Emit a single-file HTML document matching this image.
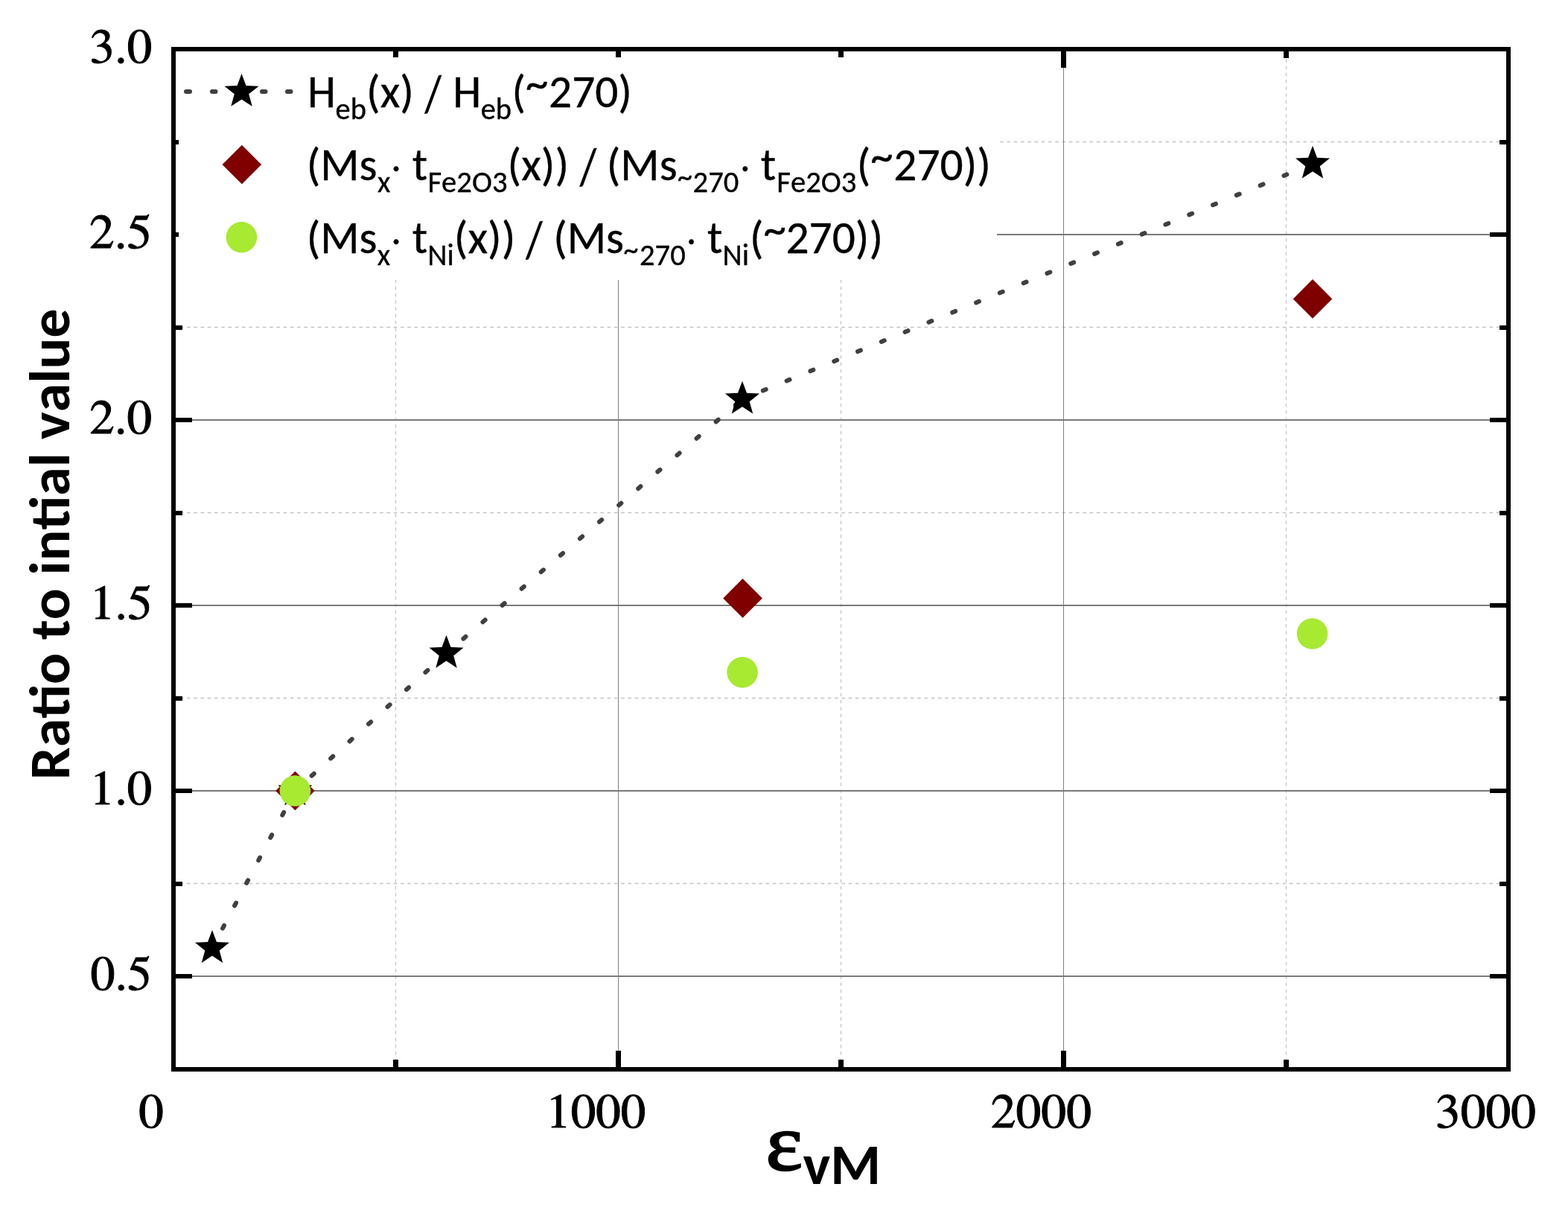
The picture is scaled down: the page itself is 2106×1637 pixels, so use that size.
<!DOCTYPE html>
<html><head><meta charset="utf-8"><title>Ratio to initial value</title>
<style>html,body{margin:0;padding:0;background:#fff;}body{width:2106px;height:1637px;overflow:hidden;}svg{display:block;}.s{font-family:"Carlito", "Liberation Sans", sans-serif;font-kerning:none;}.r{font-family:"Liberation Serif", "Times New Roman", serif;font-kerning:none;}.t{font-family:"TeX Gyre Termes", "FreeSerif", "Liberation Serif", serif;font-kerning:none;}</style>
</head><body>
<svg width="2106" height="1637" viewBox="0 0 2106 1637">
<rect x="0" y="0" width="2106" height="1637" fill="#fff"/>
<g id="grid"><line x1="531.5" y1="69.94" x2="531.5" y2="1433" stroke="#c2c2c2" stroke-width="1.2" stroke-dasharray="4.6 4.656"/><line x1="1129.5" y1="69.94" x2="1129.5" y2="1433" stroke="#c2c2c2" stroke-width="1.2" stroke-dasharray="4.6 4.656"/><line x1="1727.5" y1="69.94" x2="1727.5" y2="1433" stroke="#c2c2c2" stroke-width="1.2" stroke-dasharray="4.6 4.656"/><line x1="232.49" y1="1186.5" x2="2023" y2="1186.5" stroke="#c2c2c2" stroke-width="1.3" stroke-dasharray="4.6 4.656"/><line x1="232.49" y1="937.5" x2="2023" y2="937.5" stroke="#c2c2c2" stroke-width="1.3" stroke-dasharray="4.6 4.656"/><line x1="232.49" y1="688.5" x2="2023" y2="688.5" stroke="#c2c2c2" stroke-width="1.3" stroke-dasharray="4.6 4.656"/><line x1="232.49" y1="439.5" x2="2023" y2="439.5" stroke="#c2c2c2" stroke-width="1.3" stroke-dasharray="4.6 4.656"/><line x1="232.49" y1="190.5" x2="2023" y2="190.5" stroke="#c2c2c2" stroke-width="1.3" stroke-dasharray="4.6 4.656"/><rect x="830" y="69" width="1" height="1364" fill="#808080"/><rect x="1428" y="69" width="1" height="1364" fill="#808080"/><rect x="236" y="1310" width="1787" height="2" fill="#7a7a7a"/><rect x="236" y="1061" width="1787" height="2" fill="#7a7a7a"/><rect x="236" y="812" width="1787" height="2" fill="#7a7a7a"/><rect x="236" y="563" width="1787" height="2" fill="#7a7a7a"/><rect x="236" y="314" width="1787" height="2" fill="#7a7a7a"/></g>
<g fill="none" stroke="#404040" stroke-width="6" stroke-linecap="round" stroke-dasharray="4.2 30.2" stroke-dashoffset="4.3"><path d="M285.0 1273.3 L396.4 1062.0"/><path d="M396.4 1062.0 L599.5 877.3"/><path d="M599.5 877.3 L997.0 536.0"/><path d="M997.0 536.0 L1763.0 220.0"/></g>
<path d="M285.00 1249.10 L291.00 1265.05 L308.02 1265.82 L294.70 1276.45 L299.22 1292.88 L285.00 1283.50 L270.78 1292.88 L275.30 1276.45 L261.98 1265.82 L279.00 1265.05Z" fill="#000"/>
<path d="M396.40 1037.80 L402.40 1053.75 L419.42 1054.52 L406.10 1065.15 L410.62 1081.58 L396.40 1072.20 L382.18 1081.58 L386.70 1065.15 L373.38 1054.52 L390.40 1053.75Z" fill="#000"/>
<path d="M599.50 853.10 L605.50 869.05 L622.52 869.82 L609.20 880.45 L613.72 896.88 L599.50 887.50 L585.28 896.88 L589.80 880.45 L576.48 869.82 L593.50 869.05Z" fill="#000"/>
<path d="M997.00 511.80 L1003.00 527.75 L1020.02 528.52 L1006.70 539.15 L1011.22 555.58 L997.00 546.20 L982.78 555.58 L987.30 539.15 L973.98 528.52 L991.00 527.75Z" fill="#000"/>
<path d="M1763.00 195.80 L1769.00 211.75 L1786.02 212.52 L1772.70 223.15 L1777.22 239.58 L1763.00 230.20 L1748.78 239.58 L1753.30 223.15 L1739.98 212.52 L1757.00 211.75Z" fill="#000"/>
<path d="M396.4 1035.7 L422.7 1062.0 L396.4 1088.3 L370.1 1062.0Z" fill="#800000"/>
<path d="M997.5 777.1 L1023.8 803.4 L997.5 829.7 L971.2 803.4Z" fill="#800000"/>
<path d="M1763.0 375.1 L1789.3 401.4 L1763.0 427.7 L1736.7 401.4Z" fill="#800000"/>
<circle cx="396.4" cy="1062.0" r="20.8" fill="#a8e932"/>
<circle cx="997.1" cy="902.9" r="20.8" fill="#a8e932"/>
<circle cx="1762.5" cy="851.0" r="20.8" fill="#a8e932"/>
<g id="ticks" fill="#000"><rect x="528.0" y="1423" width="7" height="10"/><rect x="528.0" y="69" width="7" height="9"/><rect x="827.0" y="1411" width="7" height="22"/><rect x="827.0" y="69" width="7" height="22"/><rect x="1126.0" y="1423" width="7" height="10"/><rect x="1126.0" y="69" width="7" height="9"/><rect x="1425.0" y="1411" width="7" height="22"/><rect x="1425.0" y="69" width="7" height="22"/><rect x="1724.0" y="1423" width="7" height="10"/><rect x="1724.0" y="69" width="7" height="9"/><rect x="236" y="1308.0" width="22" height="6"/><rect x="2001" y="1308.0" width="22" height="6"/><rect x="236" y="1184.0" width="9" height="6"/><rect x="2014" y="1184.0" width="9" height="6"/><rect x="236" y="1059.0" width="22" height="6"/><rect x="2001" y="1059.0" width="22" height="6"/><rect x="236" y="935.0" width="9" height="6"/><rect x="2014" y="935.0" width="9" height="6"/><rect x="236" y="810.0" width="22" height="6"/><rect x="2001" y="810.0" width="22" height="6"/><rect x="236" y="686.0" width="9" height="6"/><rect x="2014" y="686.0" width="9" height="6"/><rect x="236" y="561.0" width="22" height="6"/><rect x="2001" y="561.0" width="22" height="6"/><rect x="236" y="437.0" width="9" height="6"/><rect x="2014" y="437.0" width="9" height="6"/><rect x="236" y="312.0" width="22" height="6"/><rect x="2001" y="312.0" width="22" height="6"/><rect x="236" y="188.0" width="9" height="6"/><rect x="2014" y="188.0" width="9" height="6"/></g>
<g id="frame" fill="#000"><rect x="230" y="63" width="1799" height="6"/><rect x="230" y="1433" width="1799" height="6"/><rect x="230" y="63" width="6" height="1376"/><rect x="2023" y="63" width="6" height="1376"/></g>
<rect x="240" y="77" width="1099" height="299" fill="#fff"/>
<line x1="250.0" y1="123" x2="255.0" y2="123" stroke="#404040" stroke-width="6" stroke-linecap="round"/>
<line x1="285.0" y1="123" x2="289.5" y2="123" stroke="#404040" stroke-width="6" stroke-linecap="round"/>
<line x1="352.0" y1="123" x2="356.5" y2="123" stroke="#404040" stroke-width="6" stroke-linecap="round"/>
<line x1="386.0" y1="123" x2="390.5" y2="123" stroke="#404040" stroke-width="6" stroke-linecap="round"/>
<path d="M324.50 99.00 L330.50 114.95 L347.52 115.72 L334.20 126.35 L338.72 142.78 L324.50 133.40 L310.28 142.78 L314.80 126.35 L301.48 115.72 L318.50 114.95Z" fill="#000"/>
<path d="M324.8 194.7 L351.1 221.0 L324.8 247.3 L298.5 221.0Z" fill="#800000"/>
<circle cx="324.4" cy="318.6" r="20.8" fill="#a8e932"/>
<g id="legendtext" class="s" fill="#000" stroke="#000" stroke-width="0.35"><text x="412.93" y="144.00" font-size="61" textLength="38.01" lengthAdjust="spacingAndGlyphs">H</text><text x="450.54" y="160.00" font-size="40" textLength="41.37" lengthAdjust="spacingAndGlyphs">eb</text><text x="492.03" y="144.00" font-size="61" textLength="63.81" lengthAdjust="spacingAndGlyphs">(x)</text><text transform="translate(570.54 148.98) scale(0.95 1.14)" font-size="61" textLength="23.56" lengthAdjust="spacingAndGlyphs">/</text><text x="608.13" y="144.00" font-size="61" textLength="38.01" lengthAdjust="spacingAndGlyphs">H</text><text x="645.74" y="160.00" font-size="40" textLength="41.37" lengthAdjust="spacingAndGlyphs">eb</text><text x="687.53" y="144.00" font-size="61" textLength="18.50" lengthAdjust="spacingAndGlyphs">(</text><text x="705.95" y="132.70" font-size="61" textLength="30.38" lengthAdjust="spacingAndGlyphs">~</text><text x="737.06" y="144.00" font-size="61" textLength="111.85" lengthAdjust="spacingAndGlyphs">270)</text><text x="411.63" y="242.00" font-size="61" textLength="94.91" lengthAdjust="spacingAndGlyphs">(Ms</text><text x="507.05" y="258.00" font-size="40" textLength="17.32" lengthAdjust="spacingAndGlyphs">x</text><text x="526.19" y="239.09" font-size="46">&#183;</text><text x="553.79" y="242.00" font-size="61" textLength="20.43" lengthAdjust="spacingAndGlyphs">t</text><text x="574.40" y="258.00" font-size="40" textLength="107.11" lengthAdjust="spacingAndGlyphs">Fe2O3</text><text x="681.53" y="242.00" font-size="61" textLength="82.51" lengthAdjust="spacingAndGlyphs">(x))</text><text transform="translate(778.64 246.98) scale(0.95 1.14)" font-size="61" textLength="23.56" lengthAdjust="spacingAndGlyphs">/</text><text x="814.73" y="242.00" font-size="61" textLength="94.91" lengthAdjust="spacingAndGlyphs">(Ms</text><text x="910.09" y="250.50" font-size="40" textLength="19.92" lengthAdjust="spacingAndGlyphs">~</text><text x="930.60" y="258.00" font-size="40" textLength="61.72" lengthAdjust="spacingAndGlyphs">270</text><text x="994.99" y="239.09" font-size="46">&#183;</text><text x="1021.79" y="242.00" font-size="61" textLength="20.43" lengthAdjust="spacingAndGlyphs">t</text><text x="1043.30" y="258.00" font-size="40" textLength="107.11" lengthAdjust="spacingAndGlyphs">Fe2O3</text><text x="1150.63" y="242.00" font-size="61" textLength="18.50" lengthAdjust="spacingAndGlyphs">(</text><text x="1169.15" y="230.70" font-size="61" textLength="30.38" lengthAdjust="spacingAndGlyphs">~</text><text x="1200.36" y="242.00" font-size="61" textLength="130.54" lengthAdjust="spacingAndGlyphs">270))</text><text x="411.63" y="340.00" font-size="61" textLength="94.91" lengthAdjust="spacingAndGlyphs">(Ms</text><text x="506.75" y="356.00" font-size="40" textLength="17.32" lengthAdjust="spacingAndGlyphs">x</text><text x="526.19" y="336.69" font-size="46">&#183;</text><text x="553.79" y="340.00" font-size="61" textLength="20.43" lengthAdjust="spacingAndGlyphs">t</text><text x="574.31" y="356.00" font-size="40" textLength="35.45" lengthAdjust="spacingAndGlyphs">Ni</text><text x="609.83" y="340.00" font-size="61" textLength="82.51" lengthAdjust="spacingAndGlyphs">(x))</text><text transform="translate(706.14 344.98) scale(0.95 1.14)" font-size="61" textLength="23.56" lengthAdjust="spacingAndGlyphs">/</text><text x="743.13" y="340.00" font-size="61" textLength="94.91" lengthAdjust="spacingAndGlyphs">(Ms</text><text x="837.59" y="348.50" font-size="40" textLength="19.92" lengthAdjust="spacingAndGlyphs">~</text><text x="859.00" y="356.00" font-size="40" textLength="61.72" lengthAdjust="spacingAndGlyphs">270</text><text x="922.79" y="336.69" font-size="46">&#183;</text><text x="950.09" y="340.00" font-size="61" textLength="20.43" lengthAdjust="spacingAndGlyphs">t</text><text x="970.61" y="356.00" font-size="40" textLength="35.45" lengthAdjust="spacingAndGlyphs">Ni</text><text x="1006.93" y="340.00" font-size="61" textLength="18.50" lengthAdjust="spacingAndGlyphs">(</text><text x="1025.45" y="328.70" font-size="61" textLength="30.38" lengthAdjust="spacingAndGlyphs">~</text><text x="1055.46" y="340.00" font-size="61" textLength="130.54" lengthAdjust="spacingAndGlyphs">270))</text></g>
<g id="labels" class="t" font-size="67" fill="#000" stroke="#000" stroke-width="1.0"><text transform="translate(186.19 1513.80) scale(1 0.965)" textLength="33.50" lengthAdjust="spacingAndGlyphs">0</text><text transform="translate(733.36 1513.80) scale(1 0.965)" textLength="133.95" lengthAdjust="spacingAndGlyphs">1000</text><text transform="translate(1330.79 1513.80) scale(1 0.965)" textLength="135.12" lengthAdjust="spacingAndGlyphs">2000</text><text transform="translate(1928.12 1513.80) scale(1 0.965)" textLength="134.79" lengthAdjust="spacingAndGlyphs">3000</text><text transform="translate(120.52 84.20) scale(1 0.965)" textLength="83.59" lengthAdjust="spacingAndGlyphs">3.0</text><text transform="translate(120.09 333.20) scale(1 0.965)" textLength="83.96" lengthAdjust="spacingAndGlyphs">2.5</text><text transform="translate(120.19 582.20) scale(1 0.965)" textLength="83.92" lengthAdjust="spacingAndGlyphs">2.0</text><text transform="translate(120.86 831.20) scale(1 0.965)" textLength="83.79" lengthAdjust="spacingAndGlyphs">1.5</text><text transform="translate(120.86 1080.20) scale(1 0.965)" textLength="83.24" lengthAdjust="spacingAndGlyphs">1.0</text><text transform="translate(121.49 1329.20) scale(1 0.965)" textLength="82.36" lengthAdjust="spacingAndGlyphs">0.5</text></g>
<text id="ytitle" class="s" font-weight="bold" font-size="77" textLength="632.87" lengthAdjust="spacingAndGlyphs" fill="#000" transform="translate(93 1047.2) rotate(-90)">Ratio to intial value</text>
<text id="xeps" class="r" font-size="108.0" fill="#000" stroke="#000" stroke-width="2.4" transform="translate(1028.56 1570.85) scale(1.09 1)">&#949;</text>
<text id="xsub" class="s" font-weight="bold" font-size="77" textLength="104.53" lengthAdjust="spacingAndGlyphs" fill="#000" x="1078.5" y="1589.5">vM</text>
</svg></body></html>
